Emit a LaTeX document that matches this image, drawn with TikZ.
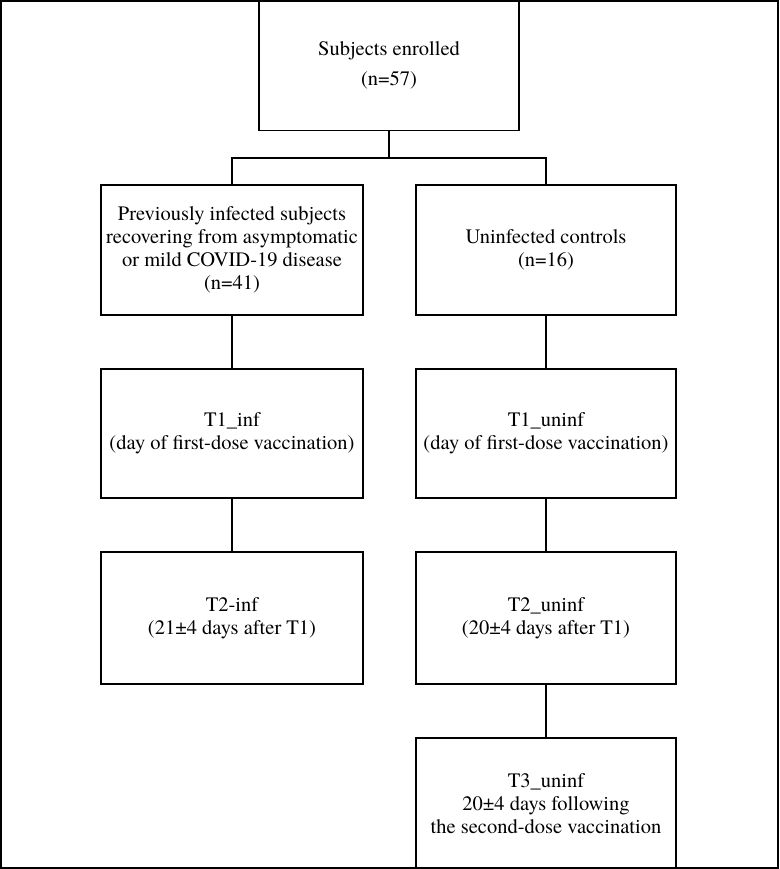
\documentclass[tikz,border=0pt]{standalone}
\usepackage{fontspec}
\setmainfont{texgyretermes-regular.otf}
\begin{document}
\begin{tikzpicture}[x=1pt,y=-1pt,
  box/.style={draw,line width=1.3pt,inner sep=0pt,align=center,font=\fontsize{20.5}{23}\selectfont},
  conn/.style={line width=1.3pt}]
\useasboundingbox (0,0) rectangle (779,869);
\draw[line width=1.6pt] (0.8,0.8) rectangle (778.2,868.2);
\node[box,minimum width=260pt,minimum height=130pt] (top) at (389,65.5) {Subjects enrolled\\[7pt](n=57)};
\node[box,minimum width=262pt,minimum height=130pt] (l2) at (232,250) {Previously infected subjects\\recovering from asymptomatic\\or mild COVID-19 disease\\(n=41)};
\node[box,minimum width=260pt,minimum height=130pt] (r2) at (546,250) {Uninfected controls\\(n=16)};
\node[box,minimum width=262pt,minimum height=129pt] (l3) at (232,433.5) {T1\_inf\\(day of first-dose vaccination)};
\node[box,minimum width=260pt,minimum height=129pt] (r3) at (546,433.5) {T1\_uninf\\(day of first-dose vaccination)};
\node[box,minimum width=262pt,minimum height=132pt] (l4) at (232,618) {T2-inf\\(21±4 days after T1)};
\node[box,minimum width=260pt,minimum height=132pt] (r4) at (546,618) {T2\_uninf\\(20±4 days after T1)};
\node[box,minimum width=260pt,minimum height=131pt] (r5) at (546,803.5) {T3\_uninf\\20±4 days following\\the second-dose vaccination};
\coordinate (br) at (389,158);
\draw[conn] (top.south) -- (br);
\draw[conn] (l2.north) -- (l2.north |- br) -- (r2.north |- br) -- (r2.north);
\draw[conn] (l2) -- (l3);
\draw[conn] (l3) -- (l4);
\draw[conn] (r2) -- (r3);
\draw[conn] (r3) -- (r4);
\draw[conn] (r4) -- (r5);
\end{tikzpicture}
\end{document}
